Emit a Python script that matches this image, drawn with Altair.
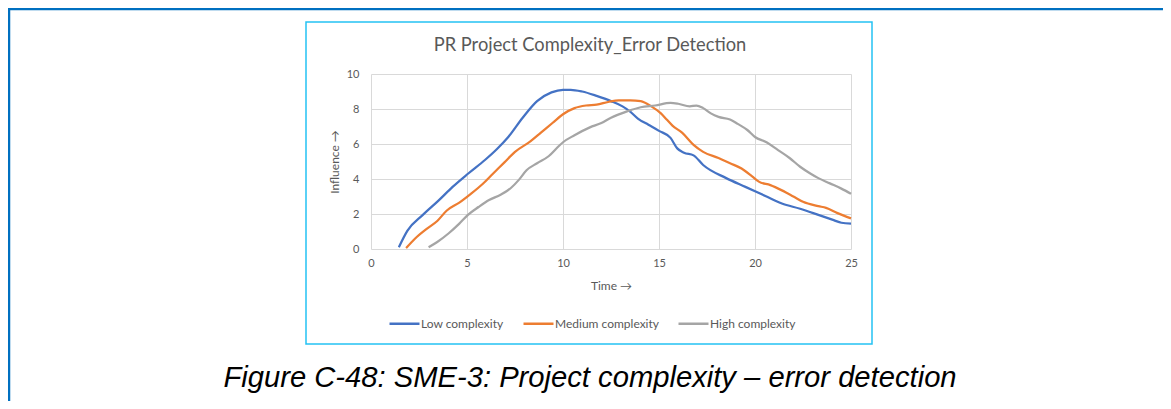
import altair as alt
import pandas as pd

series_names = ["Low complexity", "Medium complexity", "High complexity"]
series_colors = ["#4472C4", "#ED7D31", "#A5A5A5"]

low_t = [1.45, 1.9, 2.7, 3.5, 4.25, 5.05, 5.95, 6.55, 7.15, 7.9, 8.65, 9.4, 10.0, 10.4, 11.0, 11.75, 12.5, 13.1, 13.5, 13.9, 14.45, 15.0, 15.6, 15.95, 16.3, 16.8, 17.3, 18.5, 19.5, 20.6, 21.4, 22.35, 23.3, 24.1, 24.5, 25.0]
low_v = [0.1, 1.05, 1.95, 2.75, 3.55, 4.3, 5.1, 5.7, 6.4, 7.5, 8.45, 8.95, 9.1, 9.1, 9.0, 8.75, 8.45, 8.15, 7.85, 7.45, 7.1, 6.75, 6.35, 5.75, 5.5, 5.35, 4.8, 4.05, 3.55, 3.0, 2.6, 2.3, 1.95, 1.65, 1.5, 1.45]

med_t = [1.83, 2.3, 2.9, 3.45, 3.95, 4.6, 5.2, 5.8, 6.35, 6.95, 7.5, 8.3, 8.85, 9.45, 10.0, 10.6, 11.2, 11.75, 12.35, 12.9, 13.5, 14.05, 14.6, 15.1, 15.4, 15.7, 16.2, 16.8, 17.3, 18.1, 18.7, 19.3, 19.85, 20.2, 20.8, 21.4, 22.0, 22.5, 23.3, 23.7, 24.3, 25.0]
med_v = [0.05, 0.6, 1.15, 1.6, 2.2, 2.65, 3.15, 3.7, 4.3, 4.95, 5.55, 6.15, 6.65, 7.2, 7.7, 8.05, 8.2, 8.25, 8.4, 8.5, 8.5, 8.45, 8.15, 7.75, 7.4, 7.05, 6.65, 5.95, 5.55, 5.2, 4.9, 4.6, 4.15, 3.85, 3.65, 3.35, 3.0, 2.7, 2.45, 2.35, 2.05, 1.75]

high_t = [3.0, 3.45, 4.05, 4.6, 5.05, 5.6, 6.15, 6.75, 7.3, 7.7, 8.1, 8.65, 9.25, 9.8, 10.0, 10.6, 11.4, 12.0, 12.5, 13.3, 14.05, 14.8, 15.6, 16.0, 16.6, 16.95, 17.3, 17.7, 18.1, 18.7, 19.1, 19.6, 20.0, 20.6, 21.2, 21.8, 22.35, 22.9, 23.3, 23.9, 24.5, 25.0]
high_v = [0.1, 0.4, 0.9, 1.45, 1.95, 2.4, 2.8, 3.1, 3.5, 3.95, 4.5, 4.9, 5.3, 5.9, 6.1, 6.5, 6.95, 7.2, 7.5, 7.85, 8.1, 8.2, 8.35, 8.3, 8.15, 8.2, 8.05, 7.75, 7.55, 7.4, 7.15, 6.8, 6.4, 6.1, 5.65, 5.2, 4.7, 4.3, 4.05, 3.75, 3.45, 3.15]

x_ticks = [0, 5, 10, 15, 20, 25]
y_ticks = [0, 2, 4, 6, 8, 10]

chart_title = "PR Project Complexity_Error Detection"
x_title = "Time \u2192"
y_title = "Influence \u2192"
caption = "Figure C-48: SME-3: Project complexity \u2013 error detection"

frames = []
for name, ts, vs in [(series_names[0], low_t, low_v), (series_names[1], med_t, med_v), (series_names[2], high_t, high_v)]:
    frames.append(pd.DataFrame({"t": ts, "v": vs, "series": name, "order": range(len(ts))}))
df = pd.concat(frames, ignore_index=True)

one = pd.DataFrame({"k": [0]})

lines = alt.Chart(df).mark_line(strokeWidth=2.25, interpolate="monotone").encode(
    x=alt.X("t:Q", scale=alt.Scale(domain=[0, 25], nice=False, zero=False),
            axis=alt.Axis(values=x_ticks, title=x_title, titlePadding=12, labelPadding=8, labelFlush=False)),
    y=alt.Y("v:Q", scale=alt.Scale(domain=[0, 10], nice=False),
            axis=alt.Axis(values=y_ticks, title=y_title, titlePadding=5, labelPadding=12, labelFlush=False)),
    color=alt.Color("series:N", scale=alt.Scale(domain=series_names, range=series_colors),
                    sort=series_names,
                    legend=alt.Legend(title=None, orient="none", legendX=17, legendY=233,
                                      direction="horizontal", symbolType="stroke",
                                      symbolSize=900, symbolStrokeWidth=2.5,
                                      labelFontSize=12, labelColor="#595959", labelFont="Lato",
                                      labelOffset=0, columnPadding=14)),
    order="order:Q",
)

# document frame (top line, left line, divider)
doc_top = alt.Chart(one).mark_rule(color="#0070C0", strokeWidth=2.5).encode(
    x=alt.value(-363), x2=alt.value(792), y=alt.value(-65))
doc_left = alt.Chart(one).mark_rule(color="#0070C0", strokeWidth=2.5).encode(
    x=alt.value(-362), y=alt.value(-66), y2=alt.value(327))
doc_div = alt.Chart(one).mark_rule(color="#0070C0", strokeWidth=2).encode(
    x=alt.value(219), y=alt.value(-66), y2=alt.value(-64))

box = alt.Chart(one).mark_rect(fill=None, stroke="#25C2F3", strokeWidth=1.5).encode(
    x=alt.value(-65), x2=alt.value(501), y=alt.value(-52), y2=alt.value(270))

title = alt.Chart(one).mark_text(font="Lato", fontSize=18.3, color="#595959", baseline="middle", align="center").encode(
    x=alt.value(219), y=alt.value(-28), text=alt.value(chart_title))

cap = alt.Chart(one).mark_text(font="Liberation Sans", fontStyle="italic", fontSize=29.2, color="#000000",
                               baseline="middle", align="center").encode(
    x=alt.value(219), y=alt.value(304), text=alt.value(caption))

chart = alt.layer(doc_top, doc_left, doc_div, box, lines, title, cap).properties(
    width=480, height=175,
    autosize=alt.AutoSizeParams(type="none"),
    padding={"left": 363, "top": 66, "right": 312, "bottom": 152},
).configure_axis(
    gridColor="#D9D9D9", gridWidth=1, domain=False, ticks=False,
    labelColor="#595959", labelFont="Lato", labelFontSize=11,
    titleColor="#595959", titleFont="Lato", titleFontSize=12, titleFontWeight="normal",
).configure_view(stroke=None)

chart.save("out.html", embed_options={"renderer": "svg", "actions": False})
